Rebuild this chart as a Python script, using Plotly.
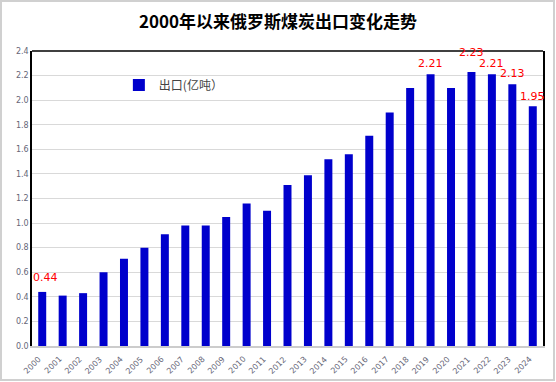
import plotly.graph_objects as go

years = [str(y) for y in range(2000, 2025)]
exports = [0.44, 0.41, 0.43, 0.60, 0.71, 0.80, 0.91, 0.98, 0.98, 1.05,
           1.16, 1.10, 1.31, 1.39, 1.52, 1.56, 1.71, 1.90, 2.10, 2.21,
           2.10, 2.23, 2.21, 2.13, 1.95]
label_years = ["2000", "2019", "2021", "2022", "2023", "2024"]
label_shift = {"2000": 6, "2019": 2, "2021": 11, "2022": 2, "2023": 2, "2024": 1}

fig = go.Figure()
fig.add_trace(go.Bar(
    x=years, y=exports, name="出口(亿吨）",
    marker=dict(color="#0000CC", line=dict(width=0)),
))

for yr in label_years:
    i = years.index(yr)
    v = exports[i]
    fig.add_annotation(
        x=i, y=v, text=f"{v:.2f}", showarrow=False,
        yanchor="bottom", yshift=label_shift[yr], xshift=3 if yr == "2000" else 0,
        font=dict(color="#FF0000", size=11, family="DejaVu Sans"),
    )

# rotated year labels under the axis
for i, yr in enumerate(years):
    fig.add_annotation(
        x=i, y=0, yref="paper", text=yr, showarrow=False, textangle=-45,
        xanchor="right", yanchor="top", xshift=3, yshift=-6,
        font=dict(size=8, color="#667", family="DejaVu Sans"),
    )

W, H = 556, 382
L, R, T, B = 32, 13, 51, 36
pw, ph = W - L - R, H - T - B
# outer light-gray frame
fig.add_shape(type="rect", xref="paper", yref="paper",
              x0=(1 - L) / pw, x1=(W - 2 - L) / pw,
              y0=-(B - 2) / ph, y1=1 + (T - 1) / ph,
              line=dict(color="#D0D0D0", width=2), layer="below")
# top black border
fig.add_shape(type="line", xref="paper", yref="paper", x0=0, x1=1, y0=1, y1=1,
              line=dict(color="black", width=1.5))

fig.update_layout(
    width=W, height=H,
    margin=dict(l=L, r=R, t=T, b=B, autoexpand=False),
    paper_bgcolor="white", plot_bgcolor="white",
    title=dict(text="<b>2000年以来俄罗斯煤炭出口变化走势</b>", x=0.5, xanchor="center",
               y=1 - 22 / H, yanchor="middle", yref="container",
               font=dict(size=17, color="black", family="Noto Sans CJK SC")),
    bargap=0.61,
    showlegend=True,
    legend=dict(x=0.17, y=0.885, xanchor="left", yanchor="middle",
                bgcolor="rgba(0,0,0,0)", font=dict(size=12, color="#444", family="Noto Sans CJK SC"),
                itemwidth=30),
    xaxis=dict(type="category", range=[-0.5, len(years) - 0.5], showline=True,
               linecolor="#CCCCCC", linewidth=1.5, showticklabels=False,
               ticks="", showgrid=False),
    yaxis=dict(range=[0, 2.4], dtick=0.2, tickformat=".1f", showline=True, linecolor="black",
               linewidth=1.5, mirror=True, ticks="", gridcolor="#D9D9D9", gridwidth=1,
               tickfont=dict(size=8, color="#667", family="DejaVu Sans"), zeroline=False),
)

fig.write_html("out.html", config={"displayModeBar": False},
               post_script="document.body.style.margin='0';document.body.style.overflow='hidden';")
